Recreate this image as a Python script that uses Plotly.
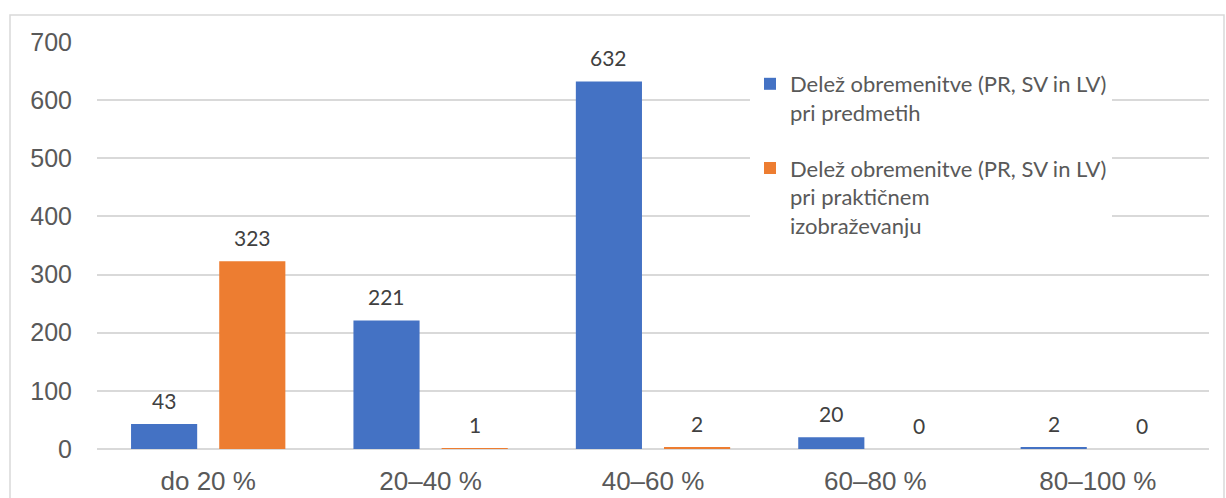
import plotly.graph_objects as go

categories = ["do 20 %", "20–40 %", "40–60 %", "60–80 %", "80–100 %"]
predmeti = [43, 221, 632, 20, 2]
prakticno = [323, 1, 2, 0, 0]
name_predmeti = "Delež obremenitve (PR, SV in LV)<br>pri predmetih"
name_prakticno = "Delež obremenitve (PR, SV in LV)<br>pri praktičnem<br>izobraževanju"
y_ticks = [0, 100, 200, 300, 400, 500, 600, 700]

BLUE = "#4472C4"
ORANGE = "#ED7D31"
W, H = 1226, 498
L, R, T, B = 97, 17, 42, 49
pw, ph = W - L - R, H - T - B

fig = go.Figure()
fig.add_trace(go.Bar(x=categories, y=predmeti, name=name_predmeti, marker_color=BLUE,
                     marker_line_width=0, legendgroup="a"))
fig.add_trace(go.Bar(x=categories, y=prakticno, name=name_prakticno, marker_color=ORANGE,
                     marker_line_width=0, legendgroup="b"))

# data labels
slot = pw / len(categories) * (1 - 0.207) / 2
for vals, sh in ((predmeti, -slot / 2), (prakticno, slot / 2)):
    for c, v in zip(categories, vals):
        fig.add_annotation(x=c, y=v, xref="x", yref="y", text=str(v), showarrow=False,
                           xshift=sh, yshift=24, yanchor="middle",
                           font=dict(family="Lato", size=21, color="#404040"))

# outer border
fig.add_shape(type="rect", xref="paper", yref="paper",
              x0=(10 - L) / pw, x1=(1224 - L) / pw,
              y0=(H - B - 510) / ph, y1=(H - B - 15) / ph,
              line=dict(color="#D9D9D9", width=1.5), fillcolor="rgba(0,0,0,0)", layer="below")

fig.update_layout(
    width=W, height=H,
    margin=dict(l=L, r=R, t=T, b=B, autoexpand=False),
    paper_bgcolor="white", plot_bgcolor="white",
    barmode="group", bargap=0.207, bargroupgap=0.25,
    showlegend=True,
    legend=dict(x=(750 - L) / pw, y=(H - B - 63) / ph, xanchor="left", yanchor="top",
                bgcolor="white", font=dict(family="Lato", size=22, color="#595959"),
                traceorder="grouped", tracegroupgap=24, valign="top",
                itemwidth=30),
    xaxis=dict(showgrid=False, showline=False, ticks="", automargin=False,
               tickfont=dict(family="Liberation Sans, Arial", size=26, color="#595959"),
               ticklabelstandoff=14),
    yaxis=dict(range=[0, 700], tickvals=y_ticks, showgrid=True, gridcolor="#D9D9D9", gridwidth=1.5,
               zeroline=True, zerolinecolor="#D9D9D9", zerolinewidth=1.5, showline=False, ticks="",
               automargin=False,
               tickfont=dict(family="Liberation Sans, Arial", size=25, color="#595959"),
               ticklabelstandoff=24),
)

fig.write_html("out.html")
